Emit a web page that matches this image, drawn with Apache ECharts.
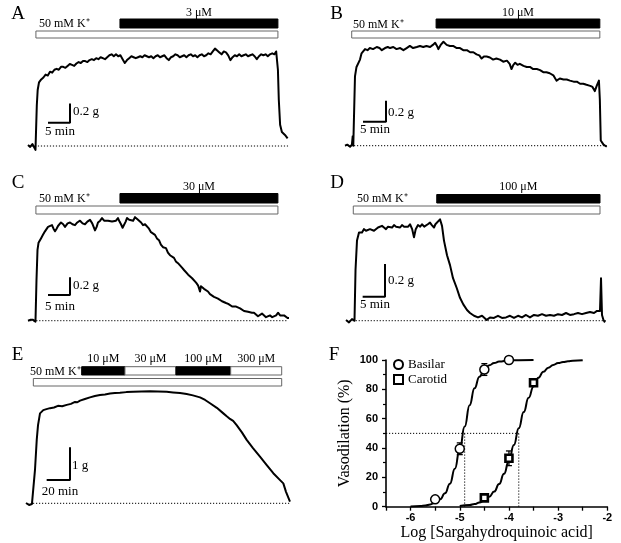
<!DOCTYPE html>
<html><head><meta charset="utf-8">
<script src="https://cdn.jsdelivr.net/npm/echarts@6/dist/echarts.min.js"></script>
<style>html,body{margin:0;padding:0;background:#fff}#c{width:621px;height:543px}</style>
</head><body><div id="c"></div>
<script>
// ---------- DATA: isometric tension traces [time (min), tension (g)] ----------
const traceA = [[0,0.01],[0.5,-0.01],[1,0.02],[1.4,0],[1.7,-0.04],[2,0.42],[2.2,0.58],[2.5,0.66],[3,0.69],[3.5,0.71],[4,0.74],[4.5,0.73],[5,0.77],[5.5,0.76],[6,0.79],[6.5,0.80],[7,0.79],[7.5,0.82],[8,0.82],[8.5,0.81],[9,0.83],[9.5,0.85],[10,0.84],[10.5,0.83],[11,0.855],[11.5,0.87],[12,0.86],[12.5,0.88],[13,0.88],[13.5,0.87],[14,0.89],[14.5,0.90],[15,0.89],[15.5,0.91],[16,0.90],[16.5,0.92],[17,0.91],[17.5,0.90],[18,0.92],[18.5,0.94],[19,0.95],[19.5,0.93],[20,0.95],[20.5,0.93],[21,0.94],[21.5,0.90],[22,0.86],[22.5,0.89],[23,0.91],[23.5,0.93],[24,0.92],[24.5,0.91],[25,0.92],[25.5,0.93],[26,0.92],[26.5,0.94],[27,0.93],[27.5,0.92],[28,0.93],[28.5,0.91],[29,0.93],[29.5,0.94],[30,0.92],[30.5,0.93],[31,0.94],[31.5,0.91],[32,0.89],[32.5,0.92],[33,0.93],[33.5,0.95],[34,0.94],[34.5,0.92],[35,0.93],[35.5,0.94],[36,0.92],[36.5,0.94],[37,0.95],[37.5,0.93],[38,0.94],[38.5,0.92],[39,0.94],[39.5,0.95],[40,0.93],[40.5,0.94],[41,0.96],[41.5,0.95],[42,0.98],[42.5,1.01],[43,0.99],[43.5,0.97],[44,0.95],[44.5,0.98],[45,0.97],[45.5,0.94],[46,0.89],[46.5,0.92],[47,0.94],[47.5,0.93],[48,0.95],[48.5,0.93],[49,0.94],[49.5,0.95],[50,0.93],[50.5,0.94],[51,0.95],[51.5,0.93],[52,0.90],[52.5,0.93],[53,0.95],[53.5,0.94],[54,0.95],[54.5,0.93],[55,0.95],[55.5,0.96],[56,0.95],[56.4,0.98],[56.6,0.96],[56.8,0.79],[57,0.48],[57.3,0.22],[57.7,0.145],[58.4,0.115],[59,0.08]];
const traceB = [[0,0],[0.5,0.01],[1.1,-0.01],[1.5,0.01],[1.67,0.09],[1.8,0],[2.17,0.66],[2.5,0.75],[3.26,0.82],[3.6,0.88],[4.35,0.92],[4.9,0.91],[5.4,0.93],[6.1,0.92],[6.9,0.94],[7.5,0.93],[8.0,0.91],[8.7,0.93],[9.3,0.94],[9.8,0.93],[10.5,0.94],[11.2,0.92],[12,0.93],[12.7,0.91],[13.4,0.93],[14.1,0.95],[14.8,0.93],[15.6,0.94],[16.3,0.95],[17.0,0.94],[17.7,0.95],[18.5,0.94],[19.1,0.96],[19.6,0.98],[20.0,0.95],[20.3,0.92],[20.8,0.96],[21.4,0.99],[22.1,0.96],[22.8,0.95],[23.5,0.95],[24.3,0.93],[25,0.93],[25.7,0.91],[26.5,0.91],[27.2,0.89],[27.9,0.89],[28.6,0.87],[29.2,0.86],[29.7,0.83],[30.2,0.85],[30.8,0.85],[31.5,0.84],[32.2,0.82],[32.9,0.83],[33.7,0.82],[34.4,0.80],[35.2,0.81],[35.8,0.78],[36.2,0.73],[36.6,0.77],[37.0,0.79],[37.5,0.77],[38.0,0.78],[38.8,0.76],[39.5,0.75],[40.2,0.75],[40.9,0.73],[41.7,0.73],[42.4,0.72],[43.1,0.70],[43.8,0.70],[44.5,0.69],[45.3,0.67],[45.7,0.64],[46.0,0.62],[46.7,0.64],[47.5,0.63],[48.2,0.63],[48.9,0.62],[49.7,0.61],[50.4,0.61],[51.1,0.59],[51.8,0.59],[52.5,0.58],[53.3,0.57],[53.8,0.56],[54.3,0.52],[54.8,0.58],[55.2,0.62],[55.4,0.44],[55.6,0.05],[56.2,0.01],[56.9,-0.01]];
const traceC = [[0,0],[0.6,0.01],[1.14,0.01],[1.7,-0.01],[1.93,0.46],[2.16,0.80],[2.39,0.88],[2.95,0.93],[3.4,0.97],[3.86,1.01],[4.2,0.99],[4.55,1.06],[5.0,1.05],[5.45,1.08],[5.8,1.04],[6.14,1.01],[6.5,1.04],[6.82,1.07],[7.2,1.08],[7.5,1.11],[8.0,1.09],[8.41,1.06],[9.0,1.10],[9.55,1.11],[10.1,1.09],[10.68,1.08],[11.2,1.11],[11.82,1.13],[12.4,1.10],[12.95,1.09],[13.5,1.12],[14.09,1.14],[14.6,1.10],[15.23,1.02],[15.6,1.06],[15.91,1.11],[16.4,1.13],[16.82,1.16],[17.3,1.13],[17.73,1.11],[18.2,1.13],[18.64,1.14],[19.1,1.12],[19.55,1.10],[20.0,1.13],[20.45,1.16],[20.8,1.12],[21.14,1.09],[21.5,1.05],[21.82,1.07],[22.2,1.12],[22.5,1.16],[23.0,1.14],[23.41,1.15],[23.9,1.13],[24.32,1.17],[24.8,1.15],[25.23,1.13],[25.7,1.11],[26.14,1.08],[26.6,1.09],[27.05,1.07],[27.5,1.04],[27.95,1.00],[28.4,0.99],[28.86,0.97],[29.3,0.93],[29.77,0.91],[30.2,0.86],[30.68,0.83],[31.0,0.85],[31.36,0.82],[31.8,0.77],[32.27,0.74],[32.7,0.73],[33.18,0.71],[33.6,0.67],[34.09,0.65],[34.5,0.63],[35.0,0.60],[35.5,0.57],[35.91,0.55],[36.4,0.52],[36.82,0.50],[37.3,0.48],[37.73,0.46],[38.2,0.43],[38.64,0.40],[39.09,0.33],[39.3,0.39],[39.55,0.38],[40.0,0.36],[40.45,0.34],[40.9,0.33],[41.36,0.30],[41.8,0.29],[42.27,0.27],[42.7,0.26],[43.18,0.25],[43.6,0.23],[44.09,0.22],[44.5,0.21],[45.0,0.20],[45.5,0.19],[45.91,0.18],[46.4,0.16],[46.82,0.15],[47.3,0.16],[47.73,0.15],[48.2,0.14],[48.64,0.13],[49.1,0.11],[49.55,0.09],[50.0,0.10],[50.45,0.08],[50.9,0.09],[51.36,0.09],[51.8,0.07],[52.27,0.05],[52.7,0.07],[53.18,0.08],[53.6,0.06],[54.09,0.04],[54.5,0.06],[55.0,0.06],[55.5,0.04],[55.91,0.04],[56.4,0.06],[56.82,0.09],[57.3,0.06],[57.73,0.04],[58.2,0.06],[58.64,0.05],[59.0,0.03],[59.32,0.03]];
const traceD = [[0,0.004],[0.67,-0.01],[1.34,0.01],[1.9,0],[2.13,0.31],[2.46,0.49],[2.91,0.54],[3.58,0.54],[4.0,0.56],[4.47,0.55],[4.9,0.545],[5.37,0.56],[5.8,0.57],[6.26,0.55],[6.7,0.56],[7.16,0.57],[7.6,0.565],[8.05,0.58],[8.5,0.57],[8.95,0.56],[9.4,0.575],[9.84,0.58],[10.3,0.57],[10.74,0.585],[11.2,0.575],[11.63,0.58],[12.1,0.57],[12.53,0.585],[13.0,0.575],[13.42,0.58],[13.9,0.575],[14.32,0.59],[14.8,0.56],[15.21,0.51],[15.6,0.56],[16.11,0.585],[16.6,0.575],[17.0,0.59],[17.5,0.575],[17.9,0.58],[18.3,0.59],[18.79,0.60],[19.2,0.585],[19.69,0.57],[20.0,0.59],[20.36,0.60],[21.03,0.62],[21.48,0.58],[21.92,0.49],[22.6,0.40],[23.27,0.34],[23.94,0.26],[24.77,0.20],[25.5,0.14],[26.24,0.10],[27.07,0.065],[27.74,0.047],[28.64,0.03],[29.53,0.02],[30.43,0.03],[31.48,0.005],[32.21,0.02],[33.1,0.017],[34.0,0.03],[34.9,0.017],[35.8,0.02],[36.69,0.03],[37.58,0.017],[38.48,0.03],[39.37,0.02],[40.27,0.035],[41.16,0.02],[42.06,0.035],[42.95,0.03],[43.85,0.04],[44.74,0.03],[45.64,0.035],[46.53,0.03],[47.43,0.04],[48.32,0.035],[49.22,0.047],[50.11,0.035],[51.0,0.04],[51.9,0.047],[52.8,0.04],[53.69,0.047],[54.59,0.053],[55.48,0.047],[56.15,0.06],[56.82,0.06],[57.05,0.26],[57.27,0.035],[57.6,0.004],[57.94,-0.01]];
const traceE = [[0,0.01],[2.6,-0.05],[5.1,-0.02],[6.4,0.01],[7.7,1.02],[9.2,1.94],[10.3,2.39],[12.0,2.75],[14.8,2.85],[17.5,2.88],[20.6,2.91],[24,2.93],[27.4,2.98],[31,2.97],[34.9,3.01],[38.5,3.04],[42.0,3.10],[44,3.09],[46.3,3.14],[50.5,3.19],[54.8,3.24],[59,3.28],[63.4,3.31],[67.7,3.33],[72.0,3.36],[76.2,3.37],[80.5,3.38],[86,3.40],[91.9,3.41],[99,3.42],[106.3,3.43],[113,3.42],[120.6,3.41],[126,3.39],[132.0,3.37],[137.7,3.34],[143,3.30],[149.1,3.24],[153.5,3.16],[157.7,3.06],[163.5,2.92],[169.1,2.75],[172,2.66],[174.8,2.58],[177.5,2.52],[180.5,2.39],[185,2.17],[189.1,1.94],[194.5,1.69],[200.5,1.43],[206.3,1.17],[211.9,0.92],[217.7,0.71],[220.5,0.61],[222.8,0.35],[226.2,0.05]];

// protocol periods (min)
const kPeriodA = [1.8, 56.8], drugPeriodA = [20.9, 56.8], drugLabelA = '3 μM', baselineA = [0.2, 59.1];
const kPeriodB = [1.46, 55.4], drugPeriodB = [19.8, 55.4], drugLabelB = '10 μM', baselineB = [0, 56.9];
const kPeriodC = [1.8, 56.8], drugPeriodC = [20.9, 56.8], drugLabelC = '30 μM', baselineC = [0.5, 59.1];
const kPeriodD = [1.63, 56.82], drugPeriodD = [20.3, 56.82], drugLabelD = '100 μM', baselineD = [0.15, 58.3];
const kPeriodE = [6.3, 219.1], drugStepsE = [47.7, 84.8, 128.5, 175.4, 219.1], drugLabelsE = ['10 μM','30 μM','100 μM','300 μM'], baselineE = [6, 226.2];
const kLabel = '50 mM K⁺';

// ---------- DATA: concentration-response (panel F) ----------
const logConc = [-5.5, -5, -4.5, -4];
const basilarMean = [5, 39.5, 93.5, 100];
const basilarSem = [1, 4, 4, 0.5];
const logConcCarotid = [-4.5, -4, -3.5];
const carotidMean = [6, 33, 84.5];
const carotidSem = [0.8, 5, 2];
const basilarFitX = [-6.0,-5.8,-5.7,-5.6,-5.5,-5.4,-5.3,-5.2,-5.1,-5.0,-4.9,-4.8,-4.7,-4.6,-4.5,-4.4,-4.3,-4.2,-4.0,-3.8,-3.5];
const basilarFitY = [0.13,0.45,0.83,1.5,2.8,5.1,9.1,15.7,25.8,39.3,54.6,69.2,80.7,88.6,93.5,96.4,98.0,98.9,99.7,99.9,100];
const carotidFitX = [-5.0,-4.8,-4.7,-4.6,-4.5,-4.4,-4.3,-4.2,-4.1,-4.0,-3.9,-3.8,-3.7,-3.6,-3.5,-3.4,-3.3,-3.2,-3.1,-3.0,-2.9,-2.8,-2.7,-2.5];
const carotidFitY = [0.45,1.14,1.79,2.8,4.4,6.75,10.3,15.4,22.4,31.4,42.0,53.4,64.5,74.2,82.0,87.9,92.0,94.8,96.6,97.9,98.6,99.1,99.5,99.8];
const ec50 = [-4.9, -3.8];
const xTicks = [-6, -5, -4, -3, -2];

// ---------- LAYOUT ----------
const SERIF = '"Liberation Serif","Times New Roman",serif';
const panels = [
  {trace:traceA, k:kPeriodA, drug:[{s:drugPeriodA[0],e:drugPeriodA[1],fill:'#000',label:drugLabelA}], base:baselineA, scaleT:5, scaleG:0.2, tLab:'5 min', gLab:'0.2 g',
   x0:28, y0:146, ppm:4.4, ppg:96.5, tMin:-2, tMax:62, gMin:-0.2, gMax:1.15, kBarY:[31,38], drugBarY:[19,28], drugLabelY:12.5, corner:[70,122.7],
   letter:['A',18,14.5], kPos:[39,24], gPos:[73,112], tPos:[45,132]},
  {trace:traceB, k:kPeriodB, drug:[{s:drugPeriodB[0],e:drugPeriodB[1],fill:'#000',label:drugLabelB}], base:baselineB, scaleT:5, scaleG:0.2, tLab:'5 min', gLab:'0.2 g',
   x0:345, y0:145.7, ppm:4.6, ppg:105, tMin:-2, tMax:60, gMin:-0.2, gMax:1.15, kBarY:[31,38], drugBarY:[19,28], drugLabelY:12.5, corner:[386,121.7],
   letter:['B',336.5,14], kPos:[353,24.5], gPos:[388,112.5], tPos:[360,130]},
  {trace:traceC, k:kPeriodC, drug:[{s:drugPeriodC[0],e:drugPeriodC[1],fill:'#000',label:drugLabelC}], base:baselineC, scaleT:5, scaleG:0.2, tLab:'5 min', gLab:'0.2 g',
   x0:28, y0:320.7, ppm:4.4, ppg:88.5, tMin:-2, tMax:62, gMin:-0.2, gMax:1.3, kBarY:[206,214], drugBarY:[193.5,203], drugLabelY:186.5, corner:[70,295],
   letter:['C',18,183], kPos:[39,199], gPos:[73,286], tPos:[45,307]},
  {trace:traceD, k:kPeriodD, drug:[{s:drugPeriodD[0],e:drugPeriodD[1],fill:'#000',label:drugLabelD}], base:baselineD, scaleT:5, scaleG:0.2, tLab:'5 min', gLab:'0.2 g',
   x0:346, y0:320.7, ppm:4.47, ppg:163.5, tMin:-2, tMax:60, gMin:-0.1, gMax:0.7, kBarY:[206,214], drugBarY:[194.5,203], drugLabelY:186.5, corner:[385,296.7],
   letter:['D',337,183], kPos:[357,199], gPos:[388,281], tPos:[360,304.5]},
  {trace:traceE, k:kPeriodE, drug:drugLabelsE.map((l,i)=>({s:drugStepsE[i],e:drugStepsE[i+1],fill:i%2===0?'#000':'#fff',label:l})), base:baselineE, scaleT:20, scaleG:1, tLab:'20 min', gLab:'1 g',
   x0:26, y0:503.3, ppm:1.167, ppg:32.7, tMin:-5, tMax:232, gMin:-0.4, gMax:3.8, kBarY:[378.5,386], drugBarY:[366.7,375], drugLabelY:359, corner:[70,480],
   letter:['E',17.5,355], kPos:[30,372], gPos:[72,466], tPos:[41.7,492]}
];

const option = {animation:false, grid:[], xAxis:[], yAxis:[], series:[], graphic:[]};
function txt(s, x, y, size, align) {
  option.graphic.push({type:'text', x:x, y:y, silent:true, style:{text:s, textAlign:align||'left', textVerticalAlign:'middle', font:size+'px '+SERIF, fill:'#000'}});
}
function barSeries(gi, segs, yr, labelY) {
  return {type:'custom', xAxisIndex:gi, yAxisIndex:gi, clip:false, silent:true, z:5, encode:{x:[0,1]},
    data: segs.map(s=>[s.s, s.e]),
    renderItem: (params, api) => {
      const sg = segs[params.dataIndex];
      const x1 = api.coord([api.value(0), 0])[0], x2 = api.coord([api.value(1), 0])[0];
      const ch = [{type:'rect', shape:{x:x1, y:yr[0], width:x2-x1, height:yr[1]-yr[0]},
        style:{fill:sg.fill, stroke:sg.fill==='#000'?'#000':'#666', lineWidth:1}}];
      if (sg.label) ch.push({type:'text', style:{text:sg.label, x:(x1+x2)/2, y:labelY, textAlign:'center', textVerticalAlign:'middle', font:'12px '+SERIF, fill:'#000'}});
      return {type:'group', children:ch};
    }};
}
panels.forEach(p => {
  const gi = option.grid.length;
  option.grid.push({left:p.x0 + p.tMin*p.ppm, top:p.y0 - p.gMax*p.ppg, width:(p.tMax-p.tMin)*p.ppm, height:(p.gMax-p.gMin)*p.ppg});
  option.xAxis.push({gridIndex:gi, type:'value', min:p.tMin, max:p.tMax, show:false});
  option.yAxis.push({gridIndex:gi, type:'value', min:p.gMin, max:p.gMax, show:false});
  option.series.push({type:'line', xAxisIndex:gi, yAxisIndex:gi, data:[[p.base[0],0],[p.base[1],0]], showSymbol:false, silent:true, z:2,
    lineStyle:{color:'#000', width:1, type:[1.2,1.8]}});
  option.series.push({type:'line', xAxisIndex:gi, yAxisIndex:gi, data:p.trace, showSymbol:false, silent:true, z:3,
    lineStyle:{color:'#000', width:2, join:'round'}});
  const tc = (p.corner[0]-p.x0)/p.ppm, gc = (p.y0-p.corner[1])/p.ppg;
  option.series.push({type:'line', xAxisIndex:gi, yAxisIndex:gi, data:[[tc-p.scaleT,gc],[tc,gc],[tc,gc+p.scaleG]], showSymbol:false, silent:true, z:3,
    lineStyle:{color:'#000', width:2}});
  option.series.push(barSeries(gi, [{s:p.k[0], e:p.k[1], fill:'#fff'}], p.kBarY, 0));
  option.series.push(barSeries(gi, p.drug, p.drugBarY, p.drugLabelY));
  txt(p.letter[0], p.letter[1], p.letter[2], 19, 'center');
  txt(kLabel, p.kPos[0], p.kPos[1], 12, 'left');
  txt(p.gLab, p.gPos[0], p.gPos[1], 13, 'left');
  txt(p.tLab, p.tPos[0], p.tPos[1], 13, 'left');
});

// ---------- PANEL F ----------
const gF = option.grid.length;
option.grid.push({left:386, top:360, width:221.3, height:146.7});
const lblF = {fontFamily:'"Liberation Sans",Arial,sans-serif', fontWeight:'bold', fontSize:11, color:'#000'};
option.xAxis.push({gridIndex:gF, type:'value', min:-6.5, max:-2, interval:0.5,
  axisLine:{lineStyle:{color:'#000', width:1.6}}, axisTick:{length:4, lineStyle:{color:'#000', width:1.3}},
  splitLine:{show:false}, axisLabel:{...lblF, margin:6, formatter:v=> xTicks.indexOf(v) >= 0 ? String(v) : ''},
  name:'Log [Sargahydroquinoic acid]', nameLocation:'middle', nameGap:16, nameTextStyle:{fontFamily:SERIF, fontSize:16, color:'#000'}});
option.yAxis.push({gridIndex:gF, type:'value', min:0, max:100, interval:20,
  axisLine:{show:true, lineStyle:{color:'#000', width:1.6}}, axisTick:{show:true, length:4, lineStyle:{color:'#000', width:1.3}},
  minorTick:{show:true, splitNumber:2, length:3, lineStyle:{color:'#000', width:1.2}},
  splitLine:{show:false}, axisLabel:{...lblF, margin:8},
  name:'Vasodilation (%)', nameLocation:'middle', nameGap:33, nameRotate:90, nameTextStyle:{fontFamily:SERIF, fontSize:16, color:'#000'}});
const fAx = {xAxisIndex:gF, yAxisIndex:gF};
// EC50 guide lines
option.series.push({type:'line', ...fAx, data:[[-6.5,50],[ec50[1],50]], showSymbol:false, silent:true, z:1, lineStyle:{color:'#000', width:1, type:[1.2,1.8]}});
ec50.forEach(v => option.series.push({type:'line', ...fAx, data:[[v,0],[v,50]], showSymbol:false, silent:true, z:1, lineStyle:{color:'#000', width:1, type:[1.2,1.8]}}));
// fitted curves
option.series.push({type:'line', ...fAx, name:'Basilar fit', data:basilarFitX.map((x,i)=>[x,basilarFitY[i]]), smooth:true, smoothMonotone:'x', showSymbol:false, silent:true, z:2, lineStyle:{color:'#000', width:2}});
option.series.push({type:'line', ...fAx, name:'Carotid fit', data:carotidFitX.map((x,i)=>[x,carotidFitY[i]]), smooth:true, smoothMonotone:'x', showSymbol:false, silent:true, z:2, lineStyle:{color:'#000', width:2}});
// error bars
function errSeries(xs, m, s) {
  return {type:'custom', ...fAx, silent:true, z:3, data:xs.map((x,i)=>[x, m[i]-s[i], m[i]+s[i]]),
    renderItem:(params, api) => {
      const lo = api.coord([api.value(0), api.value(1)]), hi = api.coord([api.value(0), api.value(2)]);
      const st = {stroke:'#000', lineWidth:1.3};
      return {type:'group', children:[
        {type:'line', shape:{x1:lo[0], y1:lo[1], x2:hi[0], y2:hi[1]}, style:st},
        {type:'line', shape:{x1:lo[0]-3, y1:lo[1], x2:lo[0]+3, y2:lo[1]}, style:st},
        {type:'line', shape:{x1:hi[0]-3, y1:hi[1], x2:hi[0]+3, y2:hi[1]}, style:st}]};
    }};
}
option.series.push(errSeries(logConc, basilarMean, basilarSem));
option.series.push(errSeries(logConcCarotid, carotidMean, carotidSem));
option.series.push({type:'scatter', ...fAx, name:'Basilar', data:logConc.map((x,i)=>[x,basilarMean[i]]), symbol:'circle', symbolSize:9, z:4,
  itemStyle:{color:'#fff', borderColor:'#000', borderWidth:1.5, opacity:1}});
option.series.push({type:'scatter', ...fAx, name:'Carotid', data:logConcCarotid.map((x,i)=>[x,carotidMean[i]]), symbol:'rect', symbolSize:7, z:4,
  itemStyle:{color:'#fff', borderColor:'#000', borderWidth:2.6, opacity:1}});
option.legend = {data:['Basilar','Carotid'], orient:'vertical', left:388, top:353, itemWidth:9, itemHeight:9, itemGap:2,
  textStyle:{fontFamily:SERIF, fontSize:13, color:'#000'}, selectedMode:false};
txt('F', 334, 355, 19, 'center');

const chart = echarts.init(document.getElementById('c'), null, {renderer:'canvas'});
chart.setOption(option);
</script></body></html>
